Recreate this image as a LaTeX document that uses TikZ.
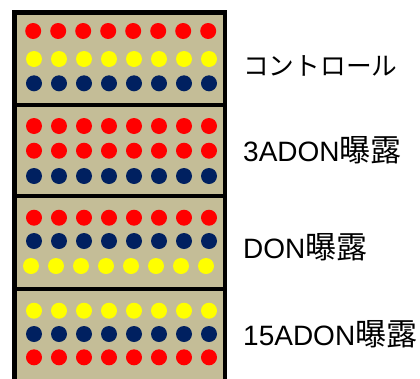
\documentclass[tikz,border=0pt]{standalone}
\usepackage{fontspec}
\setmainfont{Liberation Sans}
\newfontfamily\jp{Noto Sans CJK JP}
\definecolor{tanbg}{HTML}{C4BD97}
\definecolor{dotred}{HTML}{FF0000}
\definecolor{dotyel}{HTML}{FFFF00}
\definecolor{dotnavy}{HTML}{002060}
\newcommand{\kanji}[1]{{\jp\fontsize{31}{32}\selectfont #1}}
\newcommand{\kana}[1]{{\jp\fontsize{25.7}{30}\selectfont #1}}
\tikzset{
  dotc/.style={circle,inner sep=0pt,minimum size=16pt,draw=none},
  boxline/.style={line width=4.6pt,draw=black},
  lbl/.style={anchor=base west,inner sep=0pt,font=\fontsize{28}{30}\selectfont},
}
\newcommand{\dotrow}[4]{% name, y, color, x0
  \foreach \i in {0,...,7}{
    \node[dotc,fill=#3] (#1-\i) at ({#4+25*\i},#2) {};
  }
}
\begin{document}
\begin{tikzpicture}[x=1pt,y=-1pt]
\useasboundingbox (0,0) rectangle (420,378);
\begin{scope}
\clip (0,0) rectangle (420,378);
\fill[tanbg] (14.2,12.5) rectangle (224.8,390);
% dots
\dotrow{b1r1}{31}{dotred}{33.2}
\dotrow{b1r2}{59}{dotyel}{34}
\dotrow{b1r3}{83.3}{dotnavy}{34}
\dotrow{b2r1}{126}{dotred}{34}
\dotrow{b2r2}{150.7}{dotred}{34}
\dotrow{b2r3}{176}{dotnavy}{34}
\dotrow{b3r1}{217.7}{dotred}{34}
\dotrow{b3r2}{241}{dotnavy}{34}
\dotrow{b3r3}{266}{dotyel}{31}
\dotrow{b4r1}{310.7}{dotyel}{34}
\dotrow{b4r2}{334}{dotnavy}{34}
\dotrow{b4r3}{357.3}{dotred}{34}
% boxes
\draw[boxline] (14.2,390) -- (14.2,12.5) -- (224.8,12.5) -- (224.8,390);
\draw[boxline] (14.2,105) -- (224.8,105);
\draw[boxline] (14.2,196) -- (224.8,196);
\draw[boxline] (14.2,289) -- (224.8,289);
\end{scope}
% labels
\node[lbl] (l1) at (243,75) {\kana{コントロール}};
\node[lbl] (l2) at (243,161) {3ADON\kanji{曝露}};
\node[lbl] (l3) at (243,258.5) {DON\kanji{曝露}};
\node[lbl] (l4) at (243,345.5) {15ADON\kanji{曝露}};
\end{tikzpicture}
\end{document}
